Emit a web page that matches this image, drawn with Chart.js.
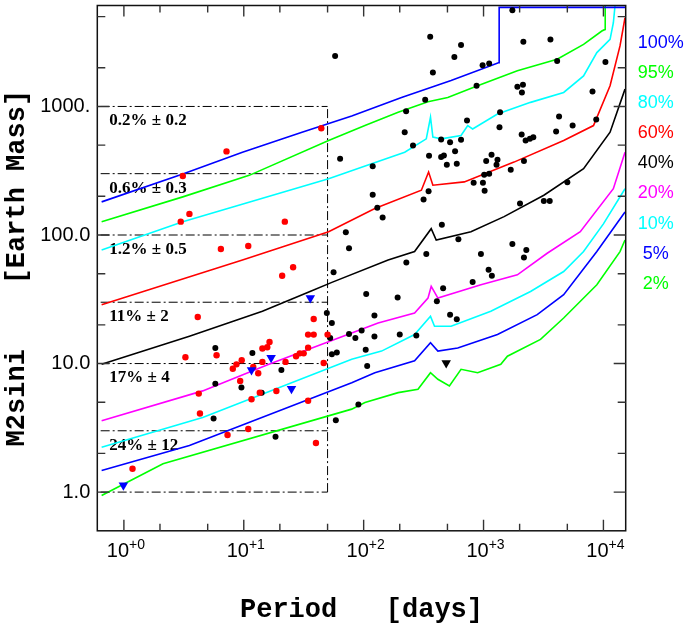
<!DOCTYPE html>
<html>
<head>
<meta charset="utf-8">
<script src="https://cdn.jsdelivr.net/npm/chart.js@4.4.1/dist/chart.umd.min.js"></script>
<style>
  html, body { margin: 0; padding: 0; background: #fff; }
  #wrap { width: 687px; height: 626px; }
</style>
</head>
<body>
<div id="wrap"><canvas id="chart" width="687" height="626"></canvas></div>
<script>
// detection limit curves, [period (days), M2sini (Earth masses)]
const curve100 = [[0.652,181],[3.10,298],[9.75,441],[30.6,630],[79.5,843],[207,1175],[536,1592],[1349,2194],[1350,5900],[15340,5900]];
const curve95 = [[0.652,127],[3.10,198],[11.1,291],[51,544],[102.5,710],[194,900],[344,1089],[503,1175],[893,1448],[1915,1892],[4111,2328],[6830,3041],[9700,3863],[10330,3975],[10350,6100]];
const curve80 = [[0.652,76.6],[3.10,127],[51,274],[116.5,359],[220,441],[333,560],[361,824],[378,577],[443,560],[649,594],[738,710],[811,668],[1307,873],[2467,1076],[4660,1286],[6830,1730],[8814,2624],[11360,3325],[12100,4477],[12500,6100]];
const curve60 = [[0.652,28.7],[9.75,64.0],[51,106],[124,161],[303,223],[348,309],[378,244],[691,259],[1795,369],[4660,544],[8265,710],[11360,1448],[13750,2956],[15140,4898]];
const curve40 = [[0.652,9.86],[3.52,16.3],[14.3,25.5],[35.7,36.4],[54.3,42.8],[160,64.0],[266,74.3],[366,112],[403,91.5],[785,106],[1484,139],[3184,204],[6830,328],[11360,630],[15140,1364]];
const curve20 = [[0.652,3.59],[4.54,6.13],[16.2,9.86],[79.5,17.3],[132,20.7],[266,24.7],[344,32.3],[366,39.8],[416,32.3],[951,41.0],[1915,49.0],[3396,72.1],[6412,106],[12100,229],[15140,441]];
const curve10 = [[0.652,2.23],[4.54,3.81],[79.5,10.8],[141,12.5],[266,16.8],[361,23.3],[390,19.5],[536,19.5],[1150,25.5],[2467,36.4],[4660,52.0],[6830,74.3],[10000,122],[15140,229]];
const curve5 = [[0.652,1.47],[3.52,2.30],[79.5,7.10],[124,8.49],[266,10.5],[361,14.5],[416,12.5],[609,13.2],[1307,16.8],[2804,24.0],[4660,34.3],[8814,74.3],[15140,151]];
const curve2 = [[0.652,0.94],[2.12,1.66],[79.5,4.42],[102.5,4.97],[194,5.94],[284,6.31],[361,8.49],[416,7.55],[519,6.69],[649,9.02],[893,8.49],[1393,9.86],[1582,11.4],[2987,15.4],[4660,22.6],[8814,41.0],[13750,74.3],[15140,91.5]];

const curves = [curve100, curve95, curve80, curve60, curve40, curve20, curve10, curve5, curve2];
const curveLabels = ['100%', '95%', '80%', '60%', '40%', '20%', '10%', '5%', '2%'];
const curveColors = ['#0000ff', '#00ff00', '#00ffff', '#ff0000', '#000000', '#ff00ff', '#00ffff', '#0000ff', '#00ff00'];

// known planets
const blackPlanets = [[1740,5610],[57.8,2473],[359,3490],[649,3008],[571,2428],[2148,3190],[3614,3325],[982,2090],[1114,2157],[4111,2261],
  [10390,2222],[378,1836],[875,1449],[1915,1423],[2132,1475],[2090,1285],[8110,1309],[326,1129],[226,916],[1374,900],
  [4266,834],[8710,790],[728,776],[220,631],[1358,689],[4030,638],[5534,710],[2080,605],[2244,544],[2437,560],
  [2600,577],[443,553],[526,527],[649,550],[258,497],[579,449],[351,413],[443,404],[467,416],[63.6,392],
  [494,352],[598,358],[1052,376],[1166,421],[1307,385],[1283,352],[2173,376],[1686,322],[119,342],[1012,294],
  [1114,300],[988,255],[827,255],[1021,221],[119,206],[348,219],[316,189],[5000,257],[2014,176],[3184,184],
  [3565,184],[130,163],[144,137],[71,105],[75.5,78.8],[449,120],[617,92.5],[1740,85.2],[2274,76.5],[333,71.3],
  [951,71.3],[2173,66.7],[227,61.1],[56.1,51.4],[1102,53.6],[1173,48.2],[811,43.0],[460,38.6],[408,30.5],[105,34.7],
  [192,32.7],[123,23.6],[526,24.0],[598,22.1],[49.3,24.7],[54.3,20.7],[75.5,17.0],[85.3,15.8],[96.2,18.1],[123,16.2],
  [200,16.8],[275,16.5],[54.3,11.8],[59.7,12.2],[104,12.8],[107,9.57],[90.4,4.80],[58.6,3.63],[52.6,15.8],[5.79,13.2],
  [11.8,12.1],[20.6,8.91],[5.79,6.98],[9.56,6.50],[14.1,5.94],[5.60,3.74],[18.4,2.70]];
const redPlanets = [[44.3,677],[7.18,447],[3.10,288],[3.52,146],[2.98,127],[22.0,127],[6.44,77.9],[10.9,82.2],[20.9,48.2],[25.8,56.1],
  [4.13,23.0],[38.3,22.2],[34.4,16.8],[38.3,16.8],[50.0,16.8],[3.26,11.2],[5.93,11.6],[16.4,14.7],[14.3,13.1],[15.7,13.4],
  [9.61,10.6],[8.10,9.12],[8.69,9.86],[14.3,10.3],[22.3,10.3],[27.3,11.4],[29.3,12.0],[31.6,12.0],[34.4,13.3],[46.4,10.1],
  [12.0,9.40],[13.2,8.40],[9.33,7.32],[4.21,5.84],[13.6,5.94],[18.7,6.12],[11.6,5.28],[34.4,5.13],[4.31,4.09],[10.9,3.10],
  [7.32,2.78],[40.0,2.41],[1.18,1.52]];
const blueLimits = [[35.9,32.3],[16.9,11.1],[11.6,8.91],[25.0,6.38],[0.99,1.13]];
const blackLimits = [[488,10.1]];

// dash-dot box of occurrence rates
const boxLevels = [1, 3, 10, 30, 100, 300, 1000];
const boxPeriod = 50;
const bandTops = [1000, 300, 100, 30, 10, 3];
const bandLabels = ['0.2% \u00b1 0.2', '0.6% \u00b1 0.3', '1.2% \u00b1 0.5', '11% \u00b1 2', '17% \u00b1 4', '24% \u00b1 12'];

const xTicks = [1, 10, 100, 1000, 10000];
const xTickExp = ['+0', '+1', '+2', '+3', '+4'];
const yTicks = [1, 10, 100, 1000];
const yTickLabels = ['1.0', '10.0', '100.0', '1000.'];

const xMin = 0.64, xMax = 15340, yMin = 0.5, yMax = 6100;

const toPts = arr => arr.map(([x, y]) => ({ x, y }));
const SANS = "'Liberation Sans', Arial, Helvetica, sans-serif";
const MONO = "'Liberation Mono', 'Courier New', monospace";

const datasets = [];
datasets.push({ data: toPts(blackLimits), pointStyle: 'triangle', pointRotation: 180, pointRadius: 5.5,
  pointBackgroundColor: '#000', pointBorderWidth: 0 });
datasets.push({ data: toPts(blueLimits), pointStyle: 'triangle', pointRotation: 180, pointRadius: 5.5,
  pointBackgroundColor: '#0000ff', pointBorderWidth: 0 });
datasets.push({ data: toPts(redPlanets), pointRadius: 3.2, pointBackgroundColor: '#ff0000', pointBorderWidth: 0 });
datasets.push({ data: toPts(blackPlanets), pointRadius: 3, pointBackgroundColor: '#000', pointBorderWidth: 0 });
curves.forEach((c, i) => {
  datasets.push({ data: toPts(c), showLine: true, borderColor: curveColors[i], borderWidth: 1.6,
    pointRadius: 0, tension: 0, fill: false });
});
boxLevels.forEach(L => {
  datasets.push({ data: [{ x: xMin, y: L }, { x: boxPeriod, y: L }], showLine: true, borderColor: '#000',
    borderWidth: 1, borderDash: [9, 3, 2, 3], pointRadius: 0 });
});
datasets.push({ data: [{ x: boxPeriod, y: boxLevels[0] }, { x: boxPeriod, y: boxLevels[boxLevels.length - 1] }],
  showLine: true, borderColor: '#000', borderWidth: 1, borderDash: [9, 3, 2, 3], pointRadius: 0 });

function logMarks(lo, hi) {
  const out = [];
  for (let k = -2; k <= 5; k++) {
    [1, 2, 5].forEach(m => {
      const v = m * Math.pow(10, k);
      if (v > lo * 1.001 && v < hi * 0.999) out.push({ v, major: m === 1 });
    });
  }
  return out;
}

const decor = {
  id: 'decor',
  beforeDatasetsDraw(chart) {
    const { ctx, chartArea: a, scales: { y } } = chart;
    ctx.save();
    ctx.fillStyle = '#000';
    ctx.font = "bold 17px 'Liberation Serif', 'Times New Roman', serif";
    ctx.textBaseline = 'middle';
    ctx.textAlign = 'left';
    bandTops.forEach((t, i) => {
      ctx.fillText(bandLabels[i], a.left + 12, y.getPixelForValue(t) + 14.5);
    });
    ctx.restore();
  },
  afterDraw(chart) {
    const { ctx, chartArea: a, scales: { x, y } } = chart;
    ctx.save();
    // frame
    ctx.strokeStyle = '#111';
    ctx.lineWidth = 1.5;
    ctx.strokeRect(a.left, a.top, a.right - a.left, a.bottom - a.top);
    // inward ticks on all four sides
    ctx.strokeStyle = '#333';
    ctx.lineWidth = 1.4;
    ctx.beginPath();
    logMarks(xMin, xMax).forEach(t => {
      const px = x.getPixelForValue(t.v);
      const len = t.major ? 11 : 7;
      ctx.moveTo(px, a.bottom); ctx.lineTo(px, a.bottom - len);
      ctx.moveTo(px, a.top); ctx.lineTo(px, a.top + len);
    });
    logMarks(yMin, yMax).forEach(t => {
      const py = y.getPixelForValue(t.v);
      const len = t.major ? 12 : 8;
      ctx.moveTo(a.left, py); ctx.lineTo(a.left + len, py);
      ctx.moveTo(a.right, py); ctx.lineTo(a.right - len, py);
    });
    ctx.stroke();
    // x tick labels with superscript exponents
    ctx.fillStyle = '#000';
    ctx.textAlign = 'left';
    ctx.textBaseline = 'alphabetic';
    xTicks.forEach((v, i) => {
      const px = x.getPixelForValue(v);
      ctx.font = '20px ' + SANS;
      const w1 = ctx.measureText('10').width;
      ctx.font = '14px ' + SANS;
      const w2 = ctx.measureText(xTickExp[i]).width;
      const start = px - (w1 + w2) / 2 + 2;
      ctx.font = '20px ' + SANS;
      ctx.fillText('10', start, a.bottom + 26);
      ctx.font = '14px ' + SANS;
      ctx.fillText(xTickExp[i], start + w1, a.bottom + 17.7);
    });
    // right-hand percentage labels
    ctx.font = '18px ' + SANS;
    ctx.textBaseline = 'middle';
    curveLabels.forEach((lab, i) => {
      ctx.fillStyle = curveColors[i];
      const indent = lab.length < 3 ? 5 : 0;
      ctx.fillText(lab, a.right + 12 + indent, a.top + 37.5 + i * 30.1);
    });
    ctx.restore();
  }
};

new Chart(document.getElementById('chart'), {
  type: 'scatter',
  data: { datasets },
  options: {
    responsive: false,
    animation: false,
    devicePixelRatio: 1,
    events: [],
    layout: { padding: { top: 2.7, right: 61.3, left: 0, bottom: 0 } },
    plugins: { legend: { display: false }, tooltip: { enabled: false } },
    scales: {
      x: {
        type: 'logarithmic', position: 'bottom', min: xMin, max: xMax,
        grid: { display: false, drawTicks: false }, border: { display: false },
        ticks: { display: false },
        afterBuildTicks: s => { s.ticks = xTicks.map(v => ({ value: v })); },
        afterFit: s => { s.height = 95.2; s.paddingLeft = 0; s.paddingRight = 0; },
        title: { display: true, text: 'Period   [days]', color: '#000',
          font: { family: MONO, size: 27, weight: 'bold' }, padding: { top: 0, bottom: 0 } }
      },
      y: {
        type: 'logarithmic', position: 'left', min: yMin, max: yMax,
        grid: { display: false, drawTicks: false }, border: { display: false },
        ticks: {
          color: '#000', padding: 7, autoSkip: false,
          font: { family: SANS, size: 20 },
          callback: v => { const i = yTicks.indexOf(v); return i >= 0 ? yTickLabels[i] : ''; }
        },
        afterBuildTicks: s => { s.ticks = yTicks.map(v => ({ value: v })); },
        afterFit: s => { s.width = 97.3; s.paddingTop = 0; s.paddingBottom = 0; },
        title: { display: true, text: 'M2sini    [Earth Mass]', color: '#000',
          font: { family: MONO, size: 27, weight: 'bold' }, padding: { top: 1, bottom: 0 } }
      }
    }
  },
  plugins: [decor]
});
</script>
</body>
</html>
